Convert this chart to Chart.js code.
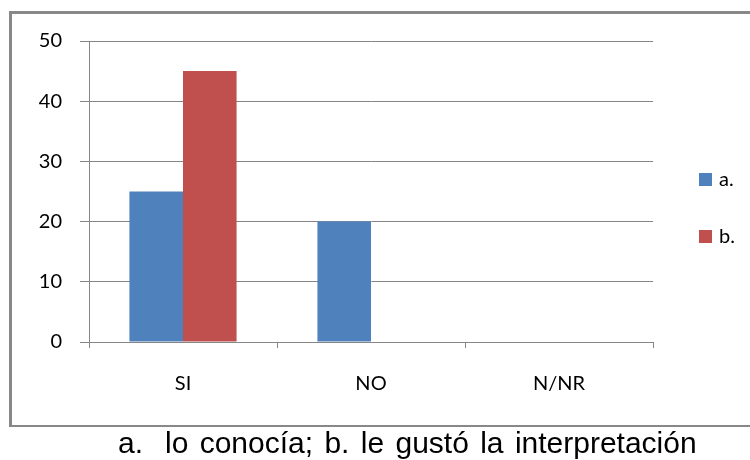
<!DOCTYPE html>
<html>
<head>
<meta charset="utf-8">
<script src="https://cdn.jsdelivr.net/npm/chart.js@4"></script>
<style>
  body { margin: 0; width: 750px; height: 460px; background: #fff; position: relative; overflow: hidden; }
  #frame {
    position: absolute; left: 9px; top: 11px; width: 800px; height: 411px;
    border-left: 3px solid #888; border-top: 3px solid #888; border-bottom: 2px solid #888;
  }
  #wrap { position: absolute; left: 0; top: 0; width: 750px; height: 430px; }
  .caption {
    position: absolute; top: 426px;
    font-family: "Liberation Sans", Arial, sans-serif; font-size: 30px; color: #000; white-space: pre;
  }
  #capA { left: 118px; }
  #capB { left: 165px; word-spacing: 3px; }
</style>
</head>
<body>
<div id="frame"></div>
<div id="wrap"><canvas id="chart" width="750" height="430"></canvas></div>
<div class="caption" id="capA">a.</div>
<div class="caption" id="capB">lo conocía; b. le gustó la interpretación</div>
<script>
const categories = ['SI', 'NO', 'N/NR'];
const seriesA = [25, 20, 0];
const seriesB = [45, 0, 0];
const yTicks = [0, 10, 20, 30, 40, 50];

const gridGray = '#868686';
const tickFont = { family: 'Lato', size: 20 };

// simple legend drawn to the right of the plot
const sideLegend = {
  id: 'sideLegend',
  afterDraw(chart) {
    const ctx = chart.ctx;
    ctx.save();
    ctx.font = '20px Lato';
    ctx.textBaseline = 'middle';
    chart.data.datasets.forEach((ds, i) => {
      const y = 180 + i * 57;
      ctx.fillStyle = ds.backgroundColor;
      ctx.fillRect(699, y - 7, 13, 13);
      ctx.fillStyle = '#000';
      ctx.fillText(ds.label, 719, y);
    });
    ctx.restore();
  }
};

new Chart(document.getElementById('chart'), {
  type: 'bar',
  data: {
    labels: categories,
    datasets: [
      { label: 'a.', data: seriesA, backgroundColor: '#4F81BD' },
      { label: 'b.', data: seriesB, backgroundColor: '#C0504D' }
    ]
  },
  options: {
    responsive: false,
    animation: false,
    layout: { padding: { top: 41, right: 97, left: 0, bottom: 0 } },
    datasets: { bar: { categoryPercentage: 0.57, barPercentage: 1.0 } },
    plugins: { legend: { display: false }, tooltip: { enabled: false } },
    scales: {
      x: {
        afterFit(scale) { scale.height = 88; },
        grid: { drawOnChartArea: false, drawTicks: true, tickLength: 6, color: gridGray, offset: true },
        border: { display: true, color: gridGray, width: 1 },
        ticks: { color: '#000', font: tickFont, padding: 24 }
      },
      y: {
        min: 0, max: 50,
        afterFit(scale) { scale.width = 89; },
        afterBuildTicks(scale) { scale.ticks = yTicks.map(v => ({ value: v })); },
        grid: { color: gridGray, tickLength: 9, lineWidth: 1 },
        border: { display: true, color: gridGray, width: 1 },
        ticks: { color: '#000', font: tickFont, padding: 18 }
      }
    }
  },
  plugins: [sideLegend]
});
</script>
</body>
</html>
